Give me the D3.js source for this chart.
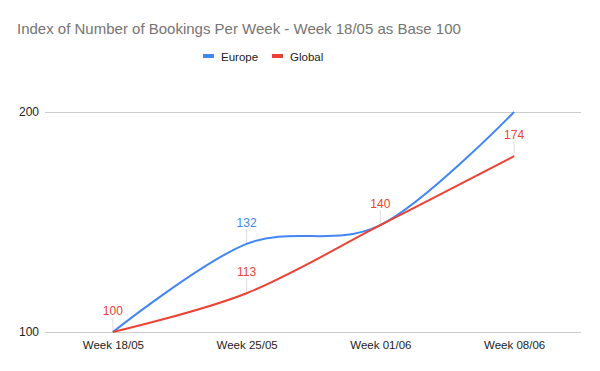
<!DOCTYPE html>
<html>
<head>
<meta charset="utf-8">
<script src="https://cdn.jsdelivr.net/npm/d3@7"></script>
<style>
  body { margin: 0; background: #fff; }
  text { font-family: Arial, "Liberation Sans", sans-serif; }
</style>
</head>
<body>
<div id="chart"></div>
<script>
var w = 600;
var h = 371;

var weeks = ["Week 18/05", "Week 25/05", "Week 01/06", "Week 08/06"];
var europe = [100, 132, 140, 200];
var global = [100, 113, 140, 174];
var yTicks = [100, 200];

// which points show a data label (the others are hidden by overlap in the original)
var europeLabels = [false, true, false, false];
var globalLabels = [true, true, true, true];

var blue = "#4285f4";
var red = "#ea4335";
var font = "Arial, 'Liberation Sans', sans-serif";

var svg = d3.select("#chart").append("svg").attr("width", w).attr("height", h);

var xScale = d3.scalePoint().domain(weeks).range([46, 581]).padding(0.5);
var yScale = d3.scaleLog().domain([100, 200]).range([332, 112]);

// title
svg.append("text")
  .attr("x", 17)
  .attr("y", 34)
  .attr("font-size", "15px")
  .attr("fill", "#757575")
  .text("Index of Number of Bookings Per Week - Week 18/05 as Base 100");

// legend
var legend = [["Europe", blue, 203], ["Global", red, 272]];
legend.forEach(function (d) {
  svg.append("rect")
    .attr("x", d[2]).attr("y", 54).attr("width", 11).attr("height", 4)
    .attr("fill", d[1]);
  svg.append("text")
    .attr("x", d[2] + 18).attr("y", 60.5)
    .attr("font-size", "11.5px").attr("fill", "#222")
    .text(d[0]);
});

// y grid + labels
var yAxis = d3.axisLeft(yScale).tickValues(yTicks).tickFormat(d3.format("d"))
  .tickSize(-(581 - 45)).tickPadding(6);
var gy = svg.append("g").attr("transform", "translate(45,0)").call(yAxis);
gy.select(".domain").remove();
gy.selectAll("line").attr("stroke", "#ccc");
gy.selectAll("text").attr("font-size", "12px").attr("fill", "#222")
  .attr("font-family", font);

// x labels
var xAxis = d3.axisBottom(xScale).tickSize(0).tickPadding(9);
var gx = svg.append("g").attr("transform", "translate(0,332)").call(xAxis);
gx.select(".domain").remove();
gx.selectAll("text").attr("font-size", "11.5px").attr("fill", "#222")
  .attr("font-family", font);

// lines
var line = d3.line()
  .x(function (d, i) { return xScale(weeks[i]); })
  .y(function (d) { return yScale(d); })
  .curve(d3.curveCardinal.tension(0));

function drawLabels(values, show, color) {
  values.forEach(function (v, i) {
    if (!show[i]) return;
    var x = xScale(weeks[i]);
    var y = yScale(v);
    svg.append("line")
      .attr("x1", x).attr("x2", x).attr("y1", y).attr("y2", y - 15)
      .attr("stroke", "#ddd").attr("stroke-width", 1);
    svg.append("text")
      .attr("x", x).attr("y", y - 17)
      .attr("text-anchor", "middle")
      .attr("font-size", "12px")
      .attr("fill", color)
      .text(v);
  });
}

drawLabels(global, globalLabels, red);
drawLabels(europe, europeLabels, blue);

svg.append("path").datum(europe).attr("d", line)
  .attr("fill", "none").attr("stroke", blue).attr("stroke-width", 2);
svg.append("path").datum(global).attr("d", line)
  .attr("fill", "none").attr("stroke", red).attr("stroke-width", 2);
</script>
</body>
</html>
